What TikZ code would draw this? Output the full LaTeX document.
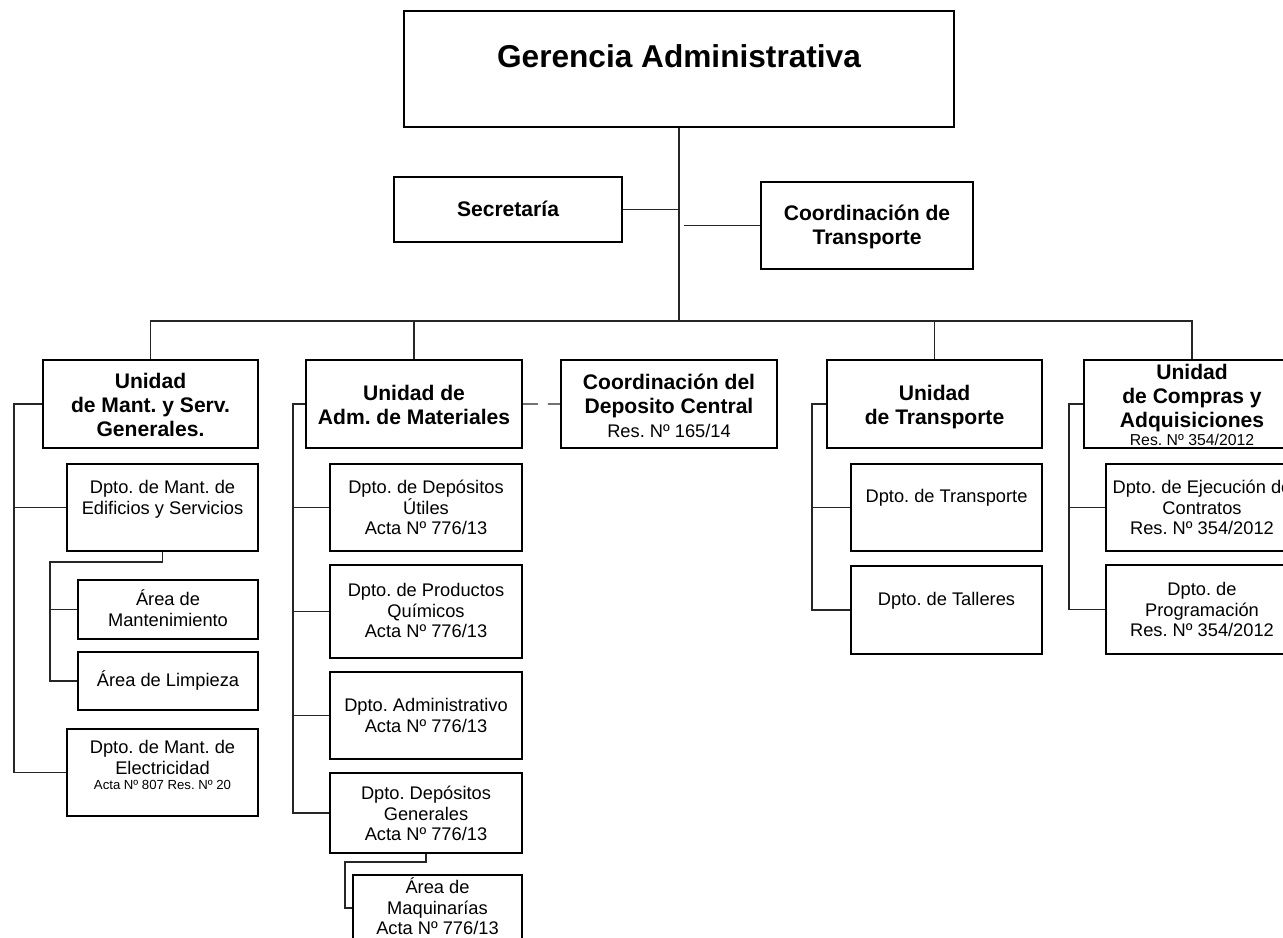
\documentclass[tikz,border=0pt]{standalone}
\usepackage{fontspec}
\setmainfont{Liberation Sans}
\usepackage{tikz}
\usetikzlibrary{calc}
\frenchspacing
\tikzstyle{head}=[draw,line width=1.1pt,rectangle,anchor=north,inner sep=0pt,align=center,font=\bfseries\fontsize{18}{21}\selectfont]
\tikzstyle{unit}=[draw,line width=1.1pt,rectangle,anchor=north,inner sep=0pt,align=center,font=\bfseries\fontsize{12}{13.6}\selectfont]
\tikzstyle{dept}=[draw,line width=1.1pt,rectangle,anchor=north,inner sep=0pt,align=center,font=\fontsize{10.4}{11.6}\selectfont]
\tikzstyle{link}=[line width=0.7pt,black!85]

\begin{document}
\begin{tikzpicture}[x=0.02cm,y=-0.02cm]
\useasboundingbox (0,0) rectangle (1283,937);
\clip (0,0) rectangle (1283,937);

% top
\node[head] (gerencia) at (679,10) [minimum width=11cm,text height=1.128cm,text depth=1.192cm] {Gerencia Administrativa};
\node[unit] (secretaria) at (508,176) [minimum width=4.56cm,text height=0.792cm,text depth=0.508cm] {Secretaría};
\node[unit] (coordtrans) at (867,181) [minimum width=4.24cm,text height=1.252cm,text depth=0.488cm] {Coordinación de\\Transporte};

% units
\node[unit] (mant) at (150.5,359) [minimum width=4.3cm,text height=1.532cm,text depth=0.228cm] {Unidad\\de Mant. y Serv.\\Generales.};
\node[unit] (admmat) at (414,359) [minimum width=4.32cm,text height=1.292cm,text depth=0.468cm] {Unidad de\\Adm. de Materiales};
\node[unit] (coorddep) at (669,359) [minimum width=4.32cm,text height=1.552cm,text depth=0.208cm] {Coordinación del\\Deposito Central\\ \mdseries\fontsize{10.4}{12}\selectfont Res. Nº 165/14};
\node[unit] (transunit) at (934.5,359) [minimum width=4.3cm,text height=1.292cm,text depth=0.468cm] {Unidad\\de Transporte};
\node[unit] (compras) at (1192,359) [minimum width=4.32cm,text height=1.714cm,text depth=0.046cm] {Unidad\\de Compras y\\Adquisiciones\\[-3.4pt] \mdseries\fontsize{9}{10}\selectfont Res. Nº 354/2012};

% departments
\node[dept] (edificios) at (162.5,463) [minimum width=3.82cm,text height=1.002cm,text depth=0.738cm] {Dpto. de Mant. de\\Edificios y Servicios};
\node[dept] (areamant) at (168,579) [minimum width=3.6cm,text height=0.922cm,text depth=0.258cm] {Área de\\Mantenimiento};
\node[dept] (arealimp) at (168,651) [minimum width=3.6cm,text height=0.692cm,text depth=0.468cm] {Área de Limpieza};
\node[dept] (electric) at (162.5,728) [minimum width=3.82cm,text height=1.216cm,text depth=0.524cm] {Dpto. de Mant. de\\Electricidad\\[-2.7pt] \fontsize{7.5}{9}\selectfont Acta Nº 807 Res. Nº 20};

\node[dept] (utiles) at (426,463) [minimum width=3.84cm,text height=1.41cm,text depth=0.33cm] {Dpto. de Depósitos\\Útiles\\Acta Nº 776/13};
\node[dept] (quimicos) at (426,564) [minimum width=3.84cm,text height=1.45cm,text depth=0.41cm] {Dpto. de Productos\\Químicos\\Acta Nº 776/13};
\node[dept] (administ) at (426,671) [minimum width=3.84cm,text height=1.202cm,text depth=0.538cm] {Dpto. Administrativo\\Acta Nº 776/13};
\node[dept] (depgen) at (426,772) [minimum width=3.84cm,text height=1.35cm,text depth=0.25cm] {Dpto. Depósitos\\Generales\\Acta Nº 776/13};
\node[dept] (maquinas) at (437.5,874) [minimum width=3.38cm,text height=1.19cm,text depth=0.13cm] {Área de\\Maquinarías\\Acta Nº 776/13};

\node[dept] (dtransp) at (946.5,463) [minimum width=3.82cm,text height=0.772cm,text depth=0.968cm] {Dpto. de Transporte};
\node[dept] (talleres) at (946.5,565) [minimum width=3.82cm,text height=0.792cm,text depth=0.968cm] {Dpto. de Talleres};

\node[dept] (ejecucion) at (1202,463) [minimum width=3.84cm,text height=1.41cm,text depth=0.33cm] {Dpto. de Ejecución de\\Contratos\\Res. Nº 354/2012};
\node[dept] (programa) at (1202,564) [minimum width=3.84cm,text height=1.43cm,text depth=0.35cm] {Dpto. de\\Programación\\Res. Nº 354/2012};

% lines
\coordinate (bus) at (679,321);
\draw[link] (gerencia.south) -- (bus);
\draw[link] (secretaria.east) -- (secretaria.east -| gerencia.south);
\draw[link] ($(gerencia.south |- coordtrans.west)+(5,0)$) -- (coordtrans.west);
\draw[link] (mant.north) |- (bus) -| (compras.north);
\draw[link] (admmat.north) -- (admmat.north |- bus);
\draw[link] (transunit.north) -- (transunit.north |- bus);
\draw[link,dash pattern=on 8.5pt off 5.7pt] (admmat.east) -- (coorddep.west);

\coordinate (mantbar) at ([xshift=-0.56cm]mant.west);
\draw[link] (mant.west) -- (mantbar) |- (electric.west);
\draw[link] (edificios.west) -- (edificios.west -| mantbar);
\coordinate (edifbar) at ([xshift=-0.54cm]areamant.west);
\draw[link] (edificios.south) -- ++(0,10) -| (edifbar |- arealimp.west) -- (arealimp.west);
\draw[link] (areamant.west) -- (edifbar);

\coordinate (admbar) at ([xshift=-0.24cm]admmat.west);
\draw[link] (admmat.west) -- (admbar) |- (depgen.west);
\draw[link] (utiles.west) -- (utiles.west -| admbar);
\draw[link] (quimicos.west) -- (quimicos.west -| admbar);
\draw[link] (administ.west) -- (administ.west -| admbar);
\coordinate (depbar) at ([xshift=-0.14cm]maquinas.west);
\draw[link] (depgen.south) -- ++(0,8) -| (depbar) -- (maquinas.west);

\coordinate (transbar) at ([xshift=-0.28cm]transunit.west);
\draw[link] (transunit.west) -- (transbar) |- (talleres.west);
\draw[link] (dtransp.west) -- (dtransp.west -| transbar);

\coordinate (compbar) at ([xshift=-0.28cm]compras.west);
\draw[link] (compras.west) -- (compbar) |- (programa.west);
\draw[link] (ejecucion.west) -- (ejecucion.west -| compbar);
\end{tikzpicture}
\end{document}
